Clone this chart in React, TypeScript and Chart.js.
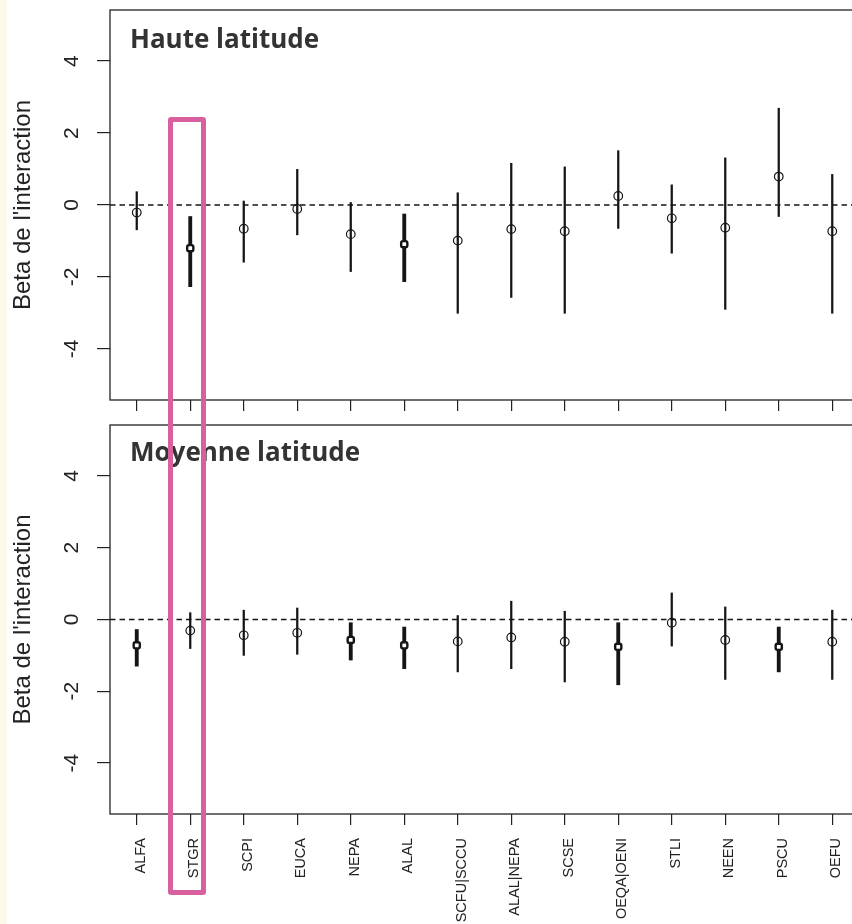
import React, { useEffect, useRef } from "react";
import { Chart, registerables } from "chart.js";

Chart.register(...registerables);

// ---- data ----
const categories = [
  "ALFA", "STGR", "SCPI", "EUCA", "NEPA", "ALAL", "SCFU|SCCU",
  "ALAL|NEPA", "SCSE", "OEQA|OENI", "STLI", "NEEN", "PSCU", "OEFU",
];

const highEst = [-0.21, -1.2, -0.66, -0.11, -0.81, -1.09, -0.99, -0.67, -0.73, 0.25, -0.37, -0.63, 0.79, -0.73];
const highLo = [-0.69, -2.27, -1.59, -0.83, -1.85, -2.13, -3.01, -2.57, -3.01, -0.65, -1.34, -2.9, -0.32, -3.01];
const highHi = [0.37, -0.32, 0.11, 0.99, 0.07, -0.25, 0.34, 1.16, 1.06, 1.51, 0.56, 1.31, 2.69, 0.85];
const highSig = [0, 1, 0, 0, 0, 1, 0, 0, 0, 0, 0, 0, 0, 0];

const midEst = [-0.72, -0.31, -0.44, -0.37, -0.57, -0.72, -0.61, -0.5, -0.62, -0.76, -0.09, -0.57, -0.76, -0.62];
const midLo = [-1.3, -0.81, -1.0, -0.97, -1.13, -1.37, -1.46, -1.37, -1.74, -1.82, -0.74, -1.67, -1.46, -1.67];
const midHi = [-0.28, 0.19, 0.26, 0.32, -0.09, -0.21, 0.11, 0.51, 0.23, -0.09, 0.74, 0.35, -0.21, 0.26];
const midSig = [1, 0, 0, 0, 1, 1, 0, 0, 0, 1, 0, 0, 1, 0];

const yTicks = [-4, -2, 0, 2, 4];
const yMin = -5.42;
const yMax = 5.42;
const yTitle = "Beta de l'interaction";
const titleHigh = "Haute latitude";
const titleMid = "Moyenne latitude";

const INK = "#151515";
const CANVAS_W = 880;

type PanelProps = {
  est: number[];
  lo: number[];
  hi: number[];
  sig: number[];
  title: string;
  showLabels: boolean;
  top: number;
  height: number;
  xAxisHeight: number;
  titleOffset: number;
};

function Panel({ est, lo, hi, sig, title, showLabels, top, height, xAxisHeight, titleOffset }: PanelProps) {
  const ref = useRef<HTMLCanvasElement>(null);

  useEffect(() => {
    const canvas = ref.current!;
    const thinBars = categories.map((_, i) => (sig[i] ? null : [lo[i], hi[i]]));
    const thickBars = categories.map((_, i) => (sig[i] ? [lo[i], hi[i]] : null));
    const thinPts = categories.map((_, i) => (sig[i] ? null : est[i]));
    const thickPts = categories.map((_, i) => (sig[i] ? est[i] : null));

    const decor = {
      id: "panelDecor",
      beforeDatasetsDraw(chart: any) {
        const { ctx, chartArea: a, scales } = chart;
        const y0 = scales.y.getPixelForValue(0);
        ctx.save();
        ctx.beginPath();
        ctx.setLineDash([5.5, 4]);
        ctx.lineWidth = 1.3;
        ctx.strokeStyle = INK;
        ctx.moveTo(a.left, y0);
        ctx.lineTo(a.right, y0);
        ctx.stroke();
        ctx.restore();
      },
      afterDraw(chart: any) {
        const { ctx, chartArea: a } = chart;
        ctx.save();
        ctx.lineWidth = 1.3;
        ctx.strokeStyle = "#222";
        ctx.strokeRect(a.left, a.top, a.right - a.left, a.bottom - a.top);
        ctx.font = "bold 26px 'Open Sans'";
        ctx.fillStyle = "#333333";
        ctx.textBaseline = "alphabetic";
        ctx.textAlign = "left";
        ctx.fillText(title, a.left + 20, a.top + titleOffset);
        ctx.restore();
      },
    };

    const chart = new Chart(canvas, {
      type: "bar",
      data: {
        labels: categories,
        datasets: [
          {
            type: "line",
            data: thinPts as any,
            showLine: false,
            pointStyle: "circle",
            pointRadius: 4.3,
            pointBorderWidth: 1.2,
            pointBorderColor: INK,
            pointBackgroundColor: "rgba(0,0,0,0)",
            order: 1,
          },
          {
            type: "line",
            data: thickPts as any,
            showLine: false,
            pointStyle: "rectRounded",
            pointRadius: 3.6,
            pointBorderWidth: 2.4,
            pointBorderColor: INK,
            pointBackgroundColor: "#ffffff",
            order: 1,
          },
          {
            type: "bar",
            data: thinBars as any,
            backgroundColor: INK,
            borderWidth: 0,
            barThickness: 1.6,
            grouped: false,
            order: 2,
          },
          {
            type: "bar",
            data: thickBars as any,
            backgroundColor: INK,
            borderWidth: 0,
            barThickness: 3.2,
            grouped: false,
            order: 2,
          },
        ],
      },
      options: {
        responsive: false,
        animation: false,
        devicePixelRatio: 1,
        events: [],
        layout: { padding: { top: 10, right: 21, left: 0, bottom: 0 } },
        plugins: { legend: { display: false }, tooltip: { enabled: false } },
        scales: {
          x: {
            type: "category",
            offset: true,
            border: { display: false },
            grid: {
              offset: false,
              drawOnChartArea: false,
              drawTicks: true,
              tickLength: 11,
              color: "#222",
              lineWidth: 1.2,
            },
            ticks: {
              display: showLabels,
              autoSkip: false,
              minRotation: 90,
              maxRotation: 90,
              padding: 13,
              labelOffset: 4,
              color: "#222",
              font: { family: "'Liberation Sans', Arial, sans-serif", size: 14.5 },
            },
            afterFit: (s: any) => {
              s.height = xAxisHeight;
              s.paddingLeft = 0;
              s.paddingRight = 0;
            },
          },
          y: {
            type: "linear",
            min: yMin,
            max: yMax,
            border: { display: false },
            grid: {
              drawOnChartArea: false,
              drawTicks: true,
              tickLength: 13,
              color: "#222",
              lineWidth: 1.2,
            },
            afterBuildTicks: (s: any) => {
              s.ticks = yTicks.map((v) => ({ value: v }));
            },
            ticks: {
              minRotation: 90,
              maxRotation: 90,
              crossAlign: "center",
              padding: 15,
              color: "#222",
              font: { family: "'Liberation Sans', Arial, sans-serif", size: 21 },
              callback: (v: any) => String(v),
            },
            title: {
              display: true,
              text: yTitle,
              color: "#222",
              padding: { top: 9, bottom: 0 },
              font: { family: "'Liberation Sans', Arial, sans-serif", size: 24 },
            },
            afterFit: (s: any) => {
              s.width = 110;
              s.paddingTop = 0;
              s.paddingBottom = 0;
            },
          },
        },
      },
      plugins: [decor],
    } as any);

    return () => chart.destroy();
  }, []);

  return (
    <canvas
      ref={ref}
      width={CANVAS_W}
      height={height}
      style={{ position: "absolute", left: 0, top, width: CANVAS_W, height }}
    />
  );
}

export default function App() {
  return (
    <div
      style={{
        position: "fixed",
        left: 0,
        top: 0,
        width: 852,
        height: 924,
        overflow: "hidden",
        background: "#ffffff",
      }}
    >
      <div style={{ position: "absolute", left: 0, top: 0, width: 7, height: 924, background: "#FCF8EA" }} />
      <Panel
        est={highEst}
        lo={highLo}
        hi={highHi}
        sig={highSig}
        title={titleHigh}
        showLabels={false}
        top={0}
        height={420}
        xAxisHeight={20}
        titleOffset={38}
      />
      <Panel
        est={midEst}
        lo={midLo}
        hi={midHi}
        sig={midSig}
        title={titleMid}
        showLabels={true}
        top={415}
        height={509}
        xAxisHeight={110}
        titleOffset={36}
      />
      <div
        style={{
          position: "absolute",
          left: 168,
          top: 117,
          width: 38,
          height: 778,
          boxSizing: "border-box",
          border: "5px solid #D9609F",
          borderRadius: 3,
        }}
      />
    </div>
  );
}
